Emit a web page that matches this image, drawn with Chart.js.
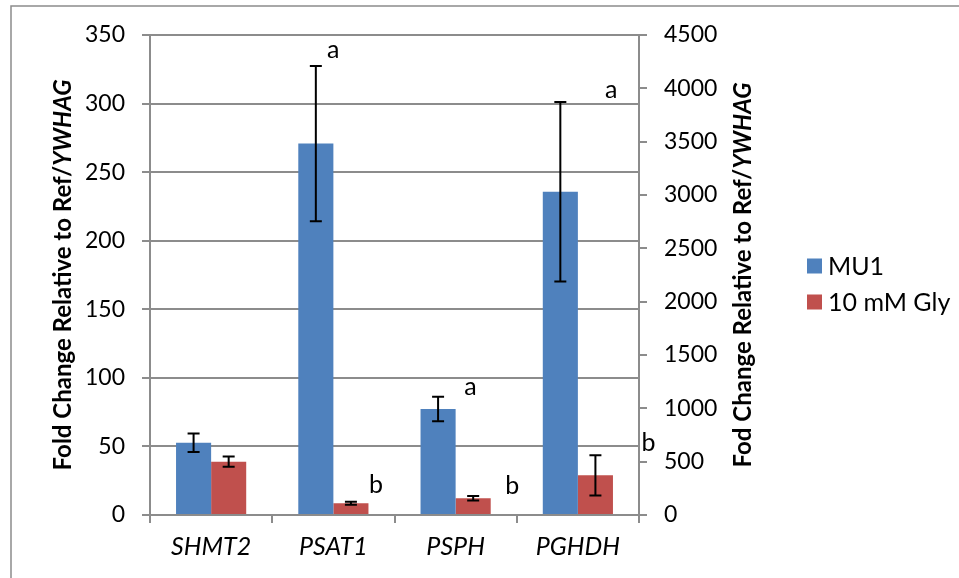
<!DOCTYPE html>
<html>
<head>
<meta charset="utf-8">
<script src="https://cdn.jsdelivr.net/npm/chart.js@4"></script>
<style>
  html, body { margin: 0; padding: 0; background: #fff; }
  canvas { display: block; }
</style>
</head>
<body>
<canvas id="myChart" width="959" height="578"></canvas>
<script>
// genes on the x axis
var genes = ['SHMT2', 'PSAT1', 'PSPH', 'PGHDH'];

// fold change, left axis (PGHDH goes on the right axis)
var mu1 = [52.7, 270.8, 77.3, null];
var mu1Err = [6.8, 56.6, 9.0, null];
var gly = [38.9, 8.5, 12.2, null];
var glyErr = [3.8, 1.1, 1.6, null];

// PGHDH only, right axis
var mu1Right = [null, null, null, 3030];
var mu1RightErr = [null, null, null, 842];
var glyRight = [null, null, null, 372];
var glyRightErr = [null, null, null, 189];

// significance letters
var mu1Letters = ['', 'a', 'a', 'a'];
var glyLetters = ['', 'b', 'b', 'b'];

var leftTicks = [0, 50, 100, 150, 200, 250, 300, 350];
var rightTicks = [0, 500, 1000, 1500, 2000, 2500, 3000, 3500, 4000, 4500];

var blue = '#4F81BD';
var red = '#C0504D';
var gris = '#8c8c8c';
var fuente = 'Lato';

// where each letter sits next to its error bar (px from bar centre / bar top)
var letterShift = {
	MU1: [null, [17.5, -7.7], [32.5, -1.7], [51, -4.4]],
	Gly: [null, [25.2, -8.7], [39, -2.4], [53, -4]]
};

var errorBars = {
	id: 'errorBars',
	afterDatasetsDraw: function(chart) {
		var ctx = chart.ctx;
		ctx.save();
		ctx.strokeStyle = '#000';
		ctx.lineWidth = 2;
		chart.data.datasets.forEach(function(ds, i) {
			var meta = chart.getDatasetMeta(i);
			var scale = chart.scales[ds.yAxisID];
			meta.data.forEach(function(bar, j) {
				var v = ds.data[j];
				var e = ds.errors[j];
				if (v == null || e == null) return;
				var top = scale.getPixelForValue(v + e);
				var bot = scale.getPixelForValue(v - e);
				ctx.beginPath();
				ctx.moveTo(bar.x, top); ctx.lineTo(bar.x, bot);
				ctx.moveTo(bar.x - 6, top); ctx.lineTo(bar.x + 6, top);
				ctx.moveTo(bar.x - 6, bot); ctx.lineTo(bar.x + 6, bot);
				ctx.stroke();
				var letra = ds.letters[j];
				var shift = letterShift[ds.group][j];
				if (letra && shift) {
					ctx.fillStyle = '#000';
					ctx.font = '25px ' + fuente;
					ctx.textAlign = 'center';
					ctx.textBaseline = 'alphabetic';
					ctx.fillText(letra, bar.x + shift[0], top + shift[1]);
				}
			});
		});
		ctx.restore();
	}
};

function drawTitle(ctx, x, y, plain, ital) {
	ctx.save();
	ctx.translate(x, y);
	ctx.rotate(-Math.PI / 2);
	ctx.fillStyle = '#000';
	ctx.textBaseline = 'middle';
	ctx.textAlign = 'left';
	ctx.font = 'bold 24px ' + fuente;
	var w1 = ctx.measureText(plain).width;
	ctx.font = 'italic bold 24px ' + fuente;
	var w2 = ctx.measureText(ital).width;
	var start = -(w1 + w2) / 2;
	ctx.font = 'bold 24px ' + fuente;
	ctx.fillText(plain, start, 0);
	ctx.font = 'italic bold 24px ' + fuente;
	ctx.fillText(ital, start + w1, 0);
	ctx.restore();
}

var extras = {
	id: 'extras',
	beforeDraw: function(chart) {
		var ctx = chart.ctx;
		ctx.save();
		ctx.fillStyle = '#fff';
		ctx.fillRect(0, 0, chart.width, chart.height);
		// frame round the chart
		ctx.strokeStyle = gris;
		ctx.lineWidth = 1.5;
		ctx.beginPath();
		ctx.moveTo(11, chart.height);
		ctx.lineTo(11, 6);
		ctx.lineTo(chart.width, 6);
		ctx.stroke();
		ctx.restore();
	},
	afterDraw: function(chart) {
		var ctx = chart.ctx;
		var area = chart.chartArea;
		var mid = (area.top + area.bottom) / 2;
		drawTitle(ctx, 63, mid, 'Fold Change Relative to Ref/', 'YWHAG');
		drawTitle(ctx, 743, mid, 'Fod Change Relative to Ref/', 'YWHAG');

		// legend
		ctx.save();
		ctx.font = '25px ' + fuente;
		ctx.textBaseline = 'middle';
		ctx.textAlign = 'left';
		var items = [chart.data.datasets[0], chart.data.datasets[1]];
		items.forEach(function(ds, k) {
			var cy = 266 + k * 36;
			ctx.fillStyle = ds.backgroundColor;
			ctx.fillRect(807, cy - 7.5, 15, 15);
			ctx.fillStyle = '#000';
			ctx.fillText(ds.label, 828, cy + 1);
		});
		ctx.restore();
	}
};

function sinComa(v) { return String(v); }

var ctx = document.getElementById('myChart');
var grafico = new Chart(ctx, {
	type: 'bar',
	data: {
		labels: genes,
		datasets: [
			{ label: 'MU1', group: 'MU1', data: mu1, errors: mu1Err, letters: mu1Letters, yAxisID: 'y', stack: 'mu1', backgroundColor: blue },
			{ label: '10 mM Gly', group: 'Gly', data: gly, errors: glyErr, letters: glyLetters, yAxisID: 'y', stack: 'gly', backgroundColor: red },
			{ label: 'MU1', group: 'MU1', data: mu1Right, errors: mu1RightErr, letters: mu1Letters, yAxisID: 'y1', stack: 'mu1', backgroundColor: blue },
			{ label: '10 mM Gly', group: 'Gly', data: glyRight, errors: glyRightErr, letters: glyLetters, yAxisID: 'y1', stack: 'gly', backgroundColor: red }
		]
	},
	options: {
		responsive: false,
		devicePixelRatio: 1,
		animation: false,
		categoryPercentage: 0.574,
		barPercentage: 1.0,
		layout: { padding: { top: 35, left: 0, right: 0, bottom: 0 } },
		plugins: {
			legend: { display: false },
			tooltip: { enabled: false }
		},
		scales: {
			x: {
				offset: true,
				grid: { display: true, drawOnChartArea: false, offset: true, tickLength: 8, color: gris, lineWidth: 2 },
				border: { color: gris, width: 2 },
				ticks: { color: '#000', padding: 9, font: { family: fuente, size: 25, style: 'italic' } },
				afterFit: function(s) { s.height = 63; }
			},
			y: {
				position: 'left',
				stacked: false,
				min: 0,
				max: leftTicks[leftTicks.length - 1],
				afterBuildTicks: function(s) { s.ticks = leftTicks.map(function(v) { return { value: v }; }); },
				grid: { color: gris, lineWidth: 2, tickLength: 8 },
				border: { color: gris, width: 2 },
				ticks: { color: '#000', padding: 17, callback: sinComa, font: { family: fuente, size: 23 } },
				afterFit: function(s) { s.width = 150; }
			},
			y1: {
				position: 'right',
				stacked: false,
				min: 0,
				max: rightTicks[rightTicks.length - 1],
				afterBuildTicks: function(s) { s.ticks = rightTicks.map(function(v) { return { value: v }; }); },
				grid: { drawOnChartArea: false, color: gris, lineWidth: 2, tickLength: 8 },
				border: { color: gris, width: 2 },
				ticks: { color: '#000', padding: 17, callback: sinComa, font: { family: fuente, size: 23 } },
				afterFit: function(s) { s.width = 320; }
			}
		}
	},
	plugins: [errorBars, extras]
});
</script>
</body>
</html>
